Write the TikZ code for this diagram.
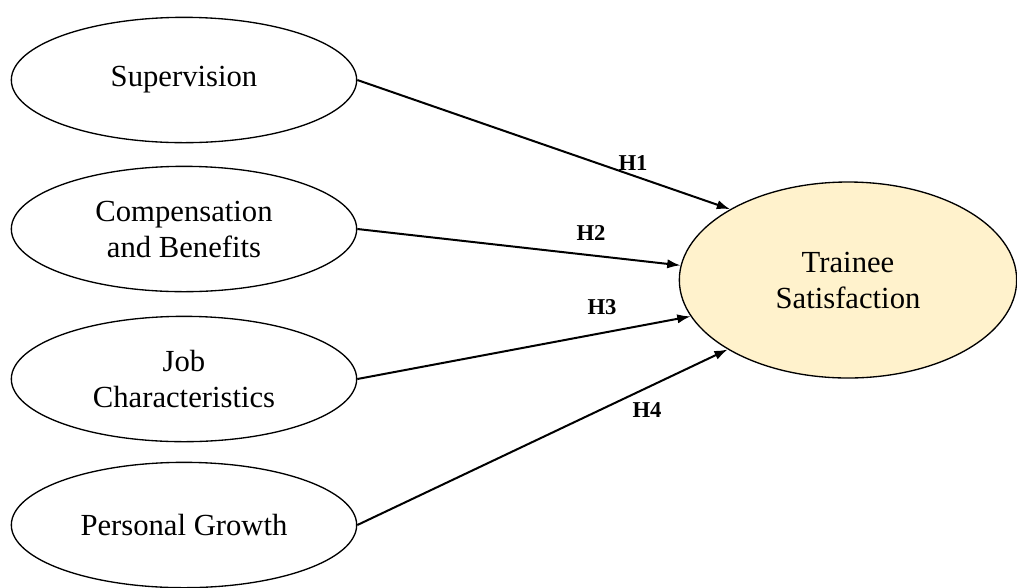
\documentclass[tikz,border=0pt]{standalone}
\usepackage{fontspec}
\setmainfont{Liberation Serif}
\usetikzlibrary{arrows.meta,shapes.geometric}
\definecolor{tsfill}{RGB}{255,242,204}
\begin{document}
\begin{tikzpicture}[x=0.75pt,y=-0.75pt,
  oval/.style={ellipse, draw, line width=1pt, minimum width=259pt, minimum height=94pt,
    inner sep=0pt, align=center, font=\fontsize{23}{27}\selectfont},
  target/.style={oval, fill=tsfill, minimum width=253pt, minimum height=147pt},
  arr/.style={line width=1.5pt, -{Latex[length=10pt,width=7pt]}},
  hlabel/.style={font=\fontsize{17}{20}\selectfont\bfseries, inner sep=0pt}]
\useasboundingbox (0,0) rectangle (1017,587);
\node[oval] (sup) at (184,80) {Supervision};
\node[oval] (comp) at (184,229) {Compensation\\and Benefits};
\node[oval] (job) at (184,379) {Job\\Characteristics};
\node[oval] (pg) at (184,525) {Personal Growth};
\node[target] (ts) at (848,280) {Trainee\\Satisfaction};
\draw[arr] (sup.east) -- (ts.149);
\draw[arr] (comp.east) -- (ts.175.5);
\draw[arr] (job.east) -- (ts.193);
\draw[arr] (pg.east) -- (ts.210);
\node[hlabel] (h1) at (633,163) {H1};
\node[hlabel] (h2) at (591,233) {H2};
\node[hlabel] (h3) at (602,307) {H3};
\node[hlabel] (h4) at (647,410) {H4};
\end{tikzpicture}
\end{document}
